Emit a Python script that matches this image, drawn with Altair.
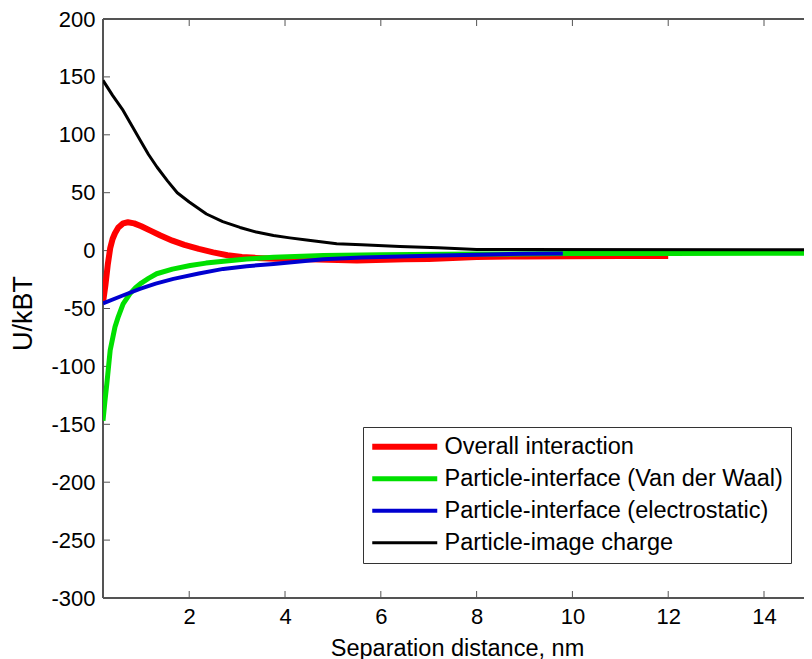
import altair as alt
import pandas as pd

SERIES = [
    "Overall interaction",
    "Particle-interface (Van der Waal)",
    "Particle-interface (electrostatic)",
    "Particle-image charge",
]
COLORS = ["#ff0000", "#00e000", "#0000d0", "#000000"]
WIDTHS = [6, 3, 3, 3]

red_x = [0.2, 0.25, 0.3, 0.35, 0.4, 0.45, 0.52, 0.62, 0.72, 0.85, 1.0, 1.2, 1.4, 1.65, 1.9,
         2.2, 2.5, 2.8, 3.1, 3.4, 3.8, 4.5, 5.5, 6.5, 7.0, 8.0, 9.0, 10.0, 11.0, 12.0]
red_y = [-45, -30, -12, 2, 10, 15, 20, 23.5, 24.5, 23.5, 21, 17, 13, 8.6, 5,
         1.5, -1.5, -4, -5.5, -6.3, -7, -7.5, -8.5, -7.5, -7.2, -5.5, -5, -4.8, -4.6, -4.6]

green_x = [0.2, 0.24, 0.28, 0.35, 0.45, 0.52, 0.62, 0.76, 0.88, 1.0, 1.15, 1.32, 1.65, 2.02,
           2.35, 2.72, 3.2, 3.76, 4.8, 6.0, 8.0, 10.0, 12.0, 15.0]
green_y = [-147, -130, -115, -86, -66, -57, -46, -37.4, -32, -28, -24, -20, -16, -12.9,
           -10.8, -9.2, -7.3, -5.7, -4.3, -3.6, -3.0, -2.6, -2.4, -2.3]

blue_x = [0.2, 0.6, 0.97, 1.3, 1.67, 2.2, 2.71, 3.2, 3.76, 4.8, 5.6, 7.0, 8.0, 9.0, 9.8]
blue_y = [-45.5, -39, -33, -28.5, -24.4, -19.8, -15.8, -13.5, -11.5, -7.5, -6, -4.5, -3.5,
          -2.7, -2.5]

black_x = [0.2, 0.4, 0.62, 0.8, 0.98, 1.15, 1.33, 1.55, 1.75, 2.0, 2.36, 2.7, 3.06, 3.4,
           3.76, 4.1, 4.45, 5.08, 5.6, 6.4, 7.2, 8.0, 15.0]
black_y = [147, 134, 121, 108, 95, 83, 72, 60, 50, 42, 31.6, 25, 20, 16,
           13, 11, 9.2, 6, 5, 3.5, 2.5, 1, 0.8]

X_TICKS = [2, 4, 6, 8, 10, 12, 14]
Y_TICKS = [-300, -250, -200, -150, -100, -50, 0, 50, 100, 150, 200]

rows = []
for name, xs, ys in zip(SERIES, [red_x, green_x, blue_x, black_x],
                        [red_y, green_y, blue_y, black_y]):
    for x, y in zip(xs, ys):
        rows.append({"series": name, "x": x, "y": y})
df = pd.DataFrame(rows)

# the visible plot is cut off at the right edge of the picture (as in the reference)
W, H = 701, 579
X_MIN, X_MAX = 0.2, 14.835
FONT = "Liberation Sans"
FRAME = "#555555"
TL = 7

xscale = alt.Scale(domain=[X_MIN, X_MAX], nice=False, zero=False)
yscale = alt.Scale(domain=[-300, 200], nice=False, zero=False)

# custom stroke path: long line while the layout size stays small
legend = alt.Legend(
    title=None, orient="none", legendX=260, legendY=408,
    strokeColor="#333333", fillColor="white", padding=8,
    labelFontSize=23.5, labelFont=FONT, labelColor="black", labelLimit=600,
    symbolType="M-5,0H5", symbolSize=169, symbolOffset=22, labelOffset=28,
    rowPadding=7,
)

lines = alt.Chart(df).mark_line(clip=True, strokeJoin="round").encode(
    x=alt.X("x:Q", scale=xscale, axis=alt.Axis(
        values=X_TICKS, title="Separation distance, nm", grid=False, ticks=False,
        domain=False, labelFontSize=22, labelPadding=8, labelFont=FONT,
        labelColor="black", labelExpr="datum.value + ''",
        titleFontSize=23.5, titleFont=FONT, titleFontWeight="normal",
        titleColor="black", titleX=354, titleY=57, titleBaseline="alphabetic")),
    y=alt.Y("y:Q", scale=yscale, axis=alt.Axis(
        values=Y_TICKS, title="U/kBT", grid=False, ticks=False, domain=False,
        labelFontSize=22, labelPadding=8, labelFont=FONT, labelColor="black",
        labelExpr="datum.value + ''",
        titleFontSize=27, titleFont=FONT, titleFontWeight="normal", titleColor="black",
        titleX=-80, titleY=294, titleBaseline="middle")),
    color=alt.Color("series:N", scale=alt.Scale(domain=SERIES, range=COLORS), legend=legend),
    strokeWidth=alt.StrokeWidth("series:N", scale=alt.Scale(domain=SERIES, range=WIDTHS),
                                legend=legend),
)

xt = pd.DataFrame({"t": X_TICKS})
yt = pd.DataFrame({"t": Y_TICKS})

xb = alt.Chart(xt).mark_rule(color=FRAME, strokeWidth=1).encode(
    x=alt.X("t:Q", scale=xscale), y=alt.value(H), y2=alt.value(H - TL))
xtp = alt.Chart(xt).mark_rule(color=FRAME, strokeWidth=1).encode(
    x=alt.X("t:Q", scale=xscale), y=alt.value(0), y2=alt.value(TL))
yl = alt.Chart(yt).mark_rule(color=FRAME, strokeWidth=1).encode(
    y=alt.Y("t:Q", scale=yscale), x=alt.value(0), x2=alt.value(TL))

# frame: left, top and bottom edges (the right edge lies outside the picture)
frame_left = alt.Chart(xt).mark_rule(color=FRAME, strokeWidth=1.5).encode(
    x=alt.value(0), y=alt.value(0), y2=alt.value(H))
frame_top = alt.Chart(xt).mark_rule(color=FRAME, strokeWidth=1.5).encode(
    x=alt.value(0), x2=alt.value(W), y=alt.value(0))
frame_bottom = alt.Chart(xt).mark_rule(color=FRAME, strokeWidth=1.5).encode(
    x=alt.value(0), x2=alt.value(W), y=alt.value(H))

chart = alt.layer(xb, xtp, yl, frame_left, frame_top, frame_bottom, lines).properties(
    width=W, height=H,
    autosize=alt.AutoSizeParams(type="none"),
    padding={"left": 95, "top": 11, "right": 0, "bottom": 62},
).configure_view(strokeOpacity=0).configure(font=FONT, background="white")

chart.save("out.html", embed_options={"renderer": "svg", "actions": False})
